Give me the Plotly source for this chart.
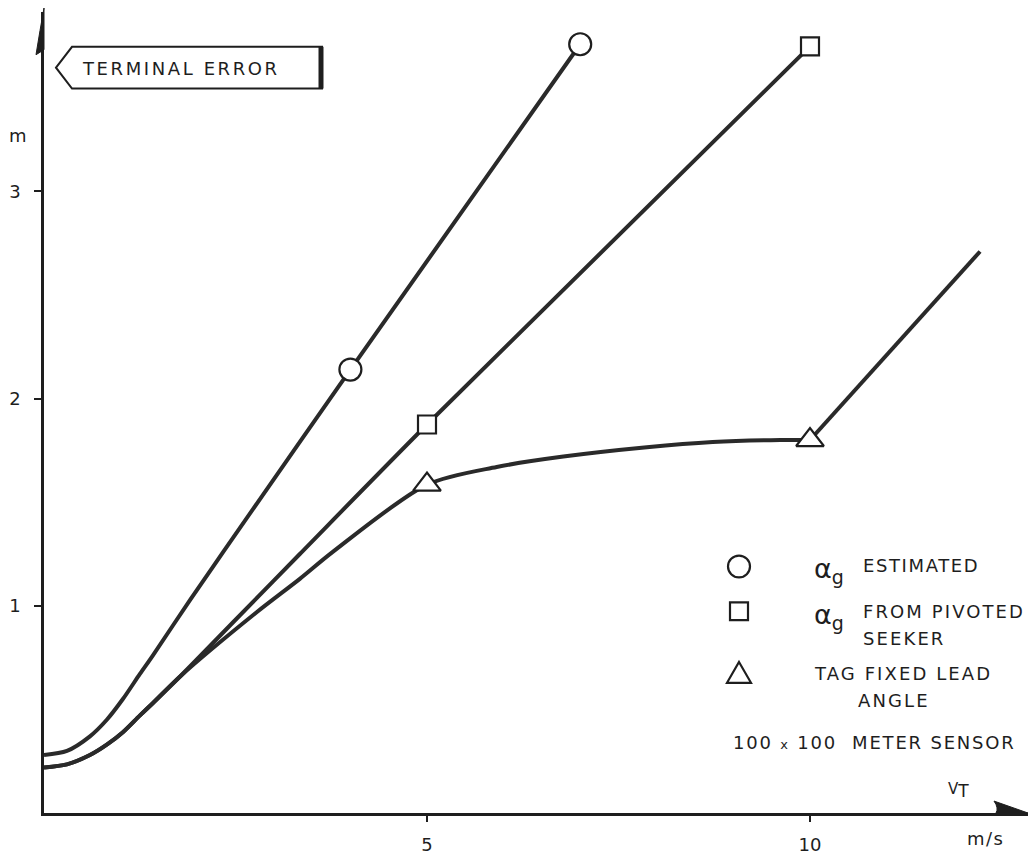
import plotly.graph_objects as go

# Terminal error (m) against target speed V_T (m/s)
est_x = [0, 0.30, 0.60, 0.82, 1.03, 1.25, 1.42, 1.91, 2.34, 4, 7]
est_y = [0.28, 0.30, 0.37, 0.45, 0.55, 0.67, 0.76, 1.03, 1.26, 2.14, 3.71]
est_marks = [4, 7]

piv_x = [0, 0.30, 0.60, 0.82, 1.03, 1.25, 1.42, 1.78, 2.52, 3.34, 5, 10]
piv_y = [0.22, 0.235, 0.28, 0.33, 0.39, 0.47, 0.53, 0.66, 0.94, 1.25, 1.875, 3.70]
piv_marks = [5, 10]

tag_x = [0, 0.30, 0.60, 0.82, 1.03, 1.25, 1.42, 1.78, 2.78, 3.34, 3.77, 5,
         5.91, 6.78, 7.87, 8.73, 9.61, 10, 12.22]
tag_y = [0.22, 0.235, 0.28, 0.33, 0.39, 0.47, 0.53, 0.66, 0.97, 1.13, 1.26, 1.585,
         1.67, 1.72, 1.765, 1.79, 1.80, 1.80, 2.71]
tag_marks = [5, 10]
tag_break = 10  # curve turns into a straight run beyond this speed

x_ticks = [5, 10]
y_ticks = [1, 2, 3]

INK = "#1e1e1e"
FONT = "DejaVu Sans"
W, H = 1031, 858
ML, MR, MT, MB = 44, 3, 12, 40
PW, PH = W - ML - MR, H - MT - MB


def px(x):
    return (x - ML) / PW


def py(y):
    return (H - MB - y) / PH


def picks(xs, ys, wanted):
    return [x for x in xs if x in wanted], [y for x, y in zip(xs, ys) if x in wanted]


def spaced(text, sp):
    return f'<span style="letter-spacing:{sp}px">{text}</span>'


fig = go.Figure()
line = dict(color="#2a2a2a", width=4)
smooth = dict(shape="spline", smoothing=0.8)

fig.add_trace(go.Scatter(x=est_x, y=est_y, mode="lines", line=dict(**line, **smooth)))
fig.add_trace(go.Scatter(x=piv_x, y=piv_y, mode="lines", line=dict(**line, **smooth)))
cx = [x for x in tag_x if x <= tag_break]
fig.add_trace(go.Scatter(x=cx, y=tag_y[:len(cx)], mode="lines", line=dict(**line, **smooth)))
fig.add_trace(go.Scatter(x=tag_x[len(cx) - 1:], y=tag_y[len(cx) - 1:], mode="lines",
                         line=dict(**line)))

mk_line = dict(color=INK, width=2.2)
for xs, ys, wanted, sym, size in [
    (est_x, est_y, est_marks, "circle", 22),
    (piv_x, piv_y, piv_marks, "square", 18),
    (tag_x, tag_y, tag_marks, "triangle-up", 24),
]:
    mx, my = picks(xs, ys, wanted)
    fig.add_trace(go.Scatter(x=mx, y=my, mode="markers",
                             marker=dict(symbol=sym, size=size, color="white", line=mk_line)))

shapes = []
# arrowheads on both axes
shapes.append(dict(type="path", xref="paper", yref="paper",
                   path=f"M {px(44)},{py(8)} L {px(44)},{py(50)} L {px(36)},{py(55)} "
                        f"Q {px(40)},{py(30)} {px(44)},{py(8)} Z",
                   fillcolor=INK, line=dict(color=INK, width=1)))
shapes.append(dict(type="path", xref="paper", yref="paper",
                   path=f"M {px(1028)},{py(818)} L {px(994)},{py(806)} "
                        f"Q {px(999)},{py(813)} {px(996)},{py(818)} Z",
                   fillcolor=INK, line=dict(color=INK, width=1)))
# pointer label box
shapes.append(dict(type="path", xref="paper", yref="paper",
                   path=f"M {px(56)},{py(68)} L {px(72)},{py(47)} L {px(322)},{py(47)} "
                        f"L {px(322)},{py(89)} L {px(72)},{py(89)} Z",
                   fillcolor="white", line=dict(color=INK, width=2)))
shapes.append(dict(type="line", xref="paper", yref="paper",
                   x0=px(321), x1=px(321), y0=py(47), y1=py(89),
                   line=dict(color=INK, width=5)))
# key symbols
shapes.append(dict(type="circle", xref="paper", yref="paper",
                   x0=px(728), x1=px(750), y0=py(559), y1=py(581),
                   fillcolor="white", line=dict(color=INK, width=2.2)))
shapes.append(dict(type="rect", xref="paper", yref="paper",
                   x0=px(730), x1=px(748), y0=py(606), y1=py(624),
                   fillcolor="white", line=dict(color=INK, width=2.2)))
shapes.append(dict(type="path", xref="paper", yref="paper",
                   path=f"M {px(739)},{py(666)} L {px(751)},{py(687)} L {px(727)},{py(687)} Z",
                   fillcolor="white", line=dict(color=INK, width=2.2)))

ann = []


def note(text, x, y, size=18, xanchor="left"):
    ann.append(dict(text=text, x=px(x), y=py(y), xref="paper", yref="paper",
                    xanchor=xanchor, yanchor="middle", showarrow=False,
                    font=dict(family=FONT, size=size, color=INK)))


alpha_g = "α<sub><span style='font-size:19px'>g</span></sub>"
note(spaced("TERMINAL ERROR", 2.6), 181, 69, xanchor="center")
note("m", 18, 136, xanchor="center")
note(alpha_g, 812, 574, size=27)
note(spaced("ESTIMATED", 1.6), 861, 569)
note(alpha_g, 812, 620, size=27)
note(spaced("FROM PIVOTED", 2.1), 861, 615)
note(spaced("SEEKER", 2.1), 861, 642)
note(spaced("TAG FIXED LEAD", 2.1), 812, 678)
note(spaced("ANGLE", 2.1), 856, 705)
note(spaced("100 <span style='font-size:13px'>x</span> 100  METER SENSOR", 1.8), 731, 747)
note("V<sub><span style='font-size:17px'>T</span></sub>", 946, 795, size=15)
note(spaced("m/s", 1.5), 985, 844, xanchor="center")

fig.update_layout(
    width=W, height=H,
    margin=dict(l=ML, r=MR, t=MT, b=MB),
    paper_bgcolor="white", plot_bgcolor="white",
    showlegend=False,
    shapes=shapes, annotations=ann,
    xaxis=dict(range=[0, PW / 76.6], showgrid=False, zeroline=False,
               showline=True, linecolor=INK, linewidth=2.5,
               tickvals=x_ticks, ticktext=[str(v) for v in x_ticks],
               ticks="outside", ticklen=6, tickwidth=2, tickcolor=INK,
               ticklabelstandoff=8,
               tickfont=dict(family=FONT, size=18, color=INK)),
    yaxis=dict(range=[0, PH / 208.5], showgrid=False, zeroline=False,
               showline=True, linecolor=INK, linewidth=2.5,
               tickvals=y_ticks, ticktext=[str(v) for v in y_ticks],
               ticks="outside", ticklen=7, tickwidth=2, tickcolor=INK,
               ticklabelstandoff=10,
               tickfont=dict(family=FONT, size=18, color=INK)),
)

fig.write_html("out.html")
